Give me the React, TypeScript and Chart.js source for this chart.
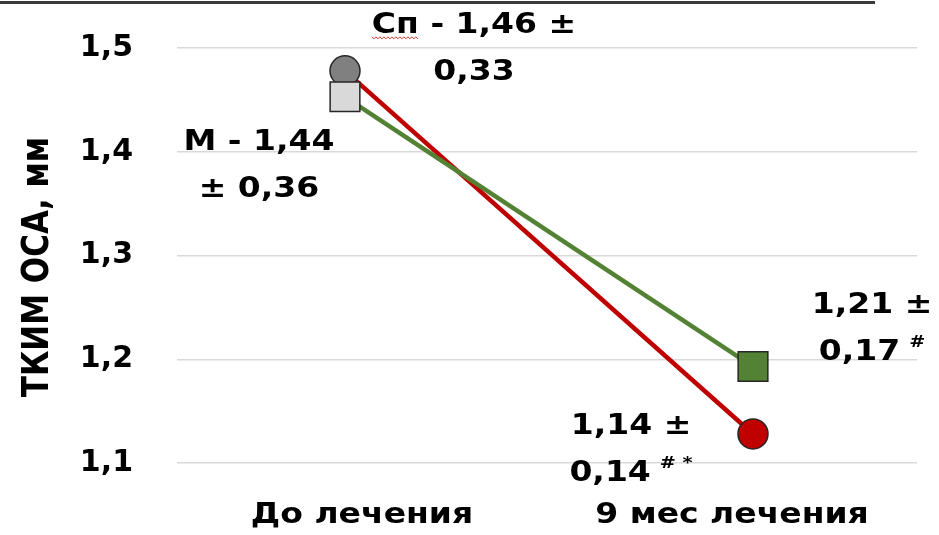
import React, { useEffect, useRef } from 'react';
import { Chart, registerables } from 'chart.js';

Chart.register(...registerables);

// ---- data ----
const categories = ['До лечения', '9 мес лечения'];
const positions = [0, 1];
const yTickValues = [1.1, 1.2, 1.3, 1.4, 1.5];
const yTickLabels = ['1,1', '1,2', '1,3', '1,4', '1,5'];
const yTitle = 'ТКИМ ОСА, мм';

const spValues = [1.478, 1.128];
const mValues = [1.453, 1.193];

const spLabels = [['Сп - 1,46 ±', '0,33'], ['1,14 ±', '0,14']];
const spMarks = ['', '# *'];
const mLabels = [['М - 1,44', '± 0,36'], ['1,21 ±', '0,17']];
const mMarks = ['', '#'];

const FONT = '"DejaVu Sans", Verdana, sans-serif';
const STRETCH = 1.2;

// label placement relative to point (dataset index order: 0 = М, 1 = Сп)
const labelPlacement = [
  [{ dx: -86, dy: 53 }, { dx: 119, dy: -54 }],
  [{ dx: 129, dy: -38 }, { dx: -122, dy: 0 }],
];
const labelTexts = [mLabels, spLabels];
const labelMarks = [mMarks, spMarks];

function stretchedText(ctx: CanvasRenderingContext2D, text: string, x: number, y: number) {
  ctx.save();
  ctx.translate(x, y);
  ctx.scale(STRETCH, 1);
  ctx.fillText(text, 0, 0);
  ctx.restore();
}

const annotationPlugin = {
  id: 'annotations',
  afterDatasetsDraw(chart: any) {
    const ctx = chart.ctx as CanvasRenderingContext2D;
    ctx.save();
    // top cut-off title rule
    ctx.fillStyle = '#3a3a3a';
    ctx.fillRect(0, 1, 875, 3);

    ctx.fillStyle = '#000';

    // y axis title
    ctx.save();
    ctx.translate(38, 267);
    ctx.scale(STRETCH, 1);
    ctx.rotate(-Math.PI / 2);
    ctx.font = `bold 31px ${FONT}`;
    ctx.textAlign = 'center';
    ctx.textBaseline = 'middle';
    ctx.fillText(yTitle, 0, 0);
    ctx.restore();

    // category labels
    const xs = chart.scales.x;
    ctx.font = `bold 27.5px ${FONT}`;
    ctx.textAlign = 'left';
    ctx.textBaseline = 'alphabetic';
    (chart.data.labels as string[]).forEach((lab: string, i: number) => {
      const px = xs.getPixelForValue(i);
      const w = ctx.measureText(lab).width * STRETCH;
      stretchedText(ctx, lab, px - w / 2, xs.top + 60);
    });

    const lineGap = 47;
    chart.data.datasets.forEach((_ds: any, di: number) => {
      const meta = chart.getDatasetMeta(di);
      meta.data.forEach((pt: any, pi: number) => {
        const place = labelPlacement[di][pi];
        const lines = labelTexts[di][pi];
        const mark = labelMarks[di][pi];
        const cx = pt.x + place.dx;
        let by = pt.y + place.dy;
        lines.forEach((line: string, li: number) => {
          ctx.font = `bold 27.5px ${FONT}`;
          const w = ctx.measureText(line).width * STRETCH;
          const isLast = li === lines.length - 1;
          let markW = 0;
          const gap = 9;
          if (isLast && mark) {
            ctx.font = `bold 16px ${FONT}`;
            markW = ctx.measureText(mark).width * STRETCH + gap;
            ctx.font = `bold 27.5px ${FONT}`;
          }
          const x0 = cx - (w + markW) / 2;
          stretchedText(ctx, line, x0, by);
          if (isLast && mark) {
            ctx.font = `bold 16px ${FONT}`;
            stretchedText(ctx, mark, x0 + w + gap, by - 13);
          }
          // spell-check wavy underline under "Сп"
          if (line.startsWith('Сп')) {
            ctx.font = `bold 27.5px ${FONT}`;
            const ww = ctx.measureText('Сп').width * STRETCH;
            ctx.save();
            ctx.strokeStyle = '#e0302a';
            ctx.lineWidth = 1;
            ctx.beginPath();
            const yy = by + 4;
            for (let x = 0; x <= ww; x += 2) {
              const y = yy + ((x / 2) % 2 === 0 ? 0 : 2);
              if (x === 0) ctx.moveTo(x0 + x, y);
              else ctx.lineTo(x0 + x, y);
            }
            ctx.stroke();
            ctx.restore();
          }
          by += lineGap;
        });
      });
    });
    ctx.restore();
  },
};

export default function App() {
  const ref = useRef<HTMLCanvasElement | null>(null);
  useEffect(() => {
    document.body.style.margin = '0';
    const canvas = ref.current;
    if (!canvas) return;
    const chart = new Chart(canvas, {
      type: 'line',
      data: {
        labels: categories,
        datasets: [
          {
            label: 'М',
            data: positions.map((x, i) => ({ x, y: mValues[i] })),
            xAxisID: 'xv',
            yAxisID: 'y',
            borderColor: '#548235',
            borderWidth: 4.5,
            pointStyle: 'rect',
            pointRadius: 21,
            pointHoverRadius: 21,
            pointBackgroundColor: ['#d9d9d9', '#548235'],
            pointBorderColor: '#262626',
            pointBorderWidth: 1.5,
            order: 0,
          },
          {
            label: 'Сп',
            data: positions.map((x, i) => ({ x, y: spValues[i] })),
            xAxisID: 'xv',
            yAxisID: 'y',
            borderColor: '#c00000',
            borderWidth: 4.5,
            pointStyle: 'circle',
            pointRadius: 15,
            pointHoverRadius: 15,
            pointBackgroundColor: ['#808080', '#c00000'],
            pointBorderColor: '#262626',
            pointBorderWidth: 1.5,
            order: 1,
          },
        ],
      },
      options: {
        responsive: false,
        animation: false,
        layout: { padding: { top: 48, right: 22, left: 0, bottom: 0 }, autoPadding: false },
        plugins: {
          legend: { display: false },
          tooltip: { enabled: false },
        },
        scales: {
          x: {
            type: 'category',
            position: 'bottom',
            offset: true,
            grid: { display: false },
            border: { display: false },
            ticks: { display: false },
            afterFit: (s: any) => {
              s.height = 72;
            },
          },
          xv: {
            type: 'linear',
            display: false,
            min: -0.41176,
            max: 1.40196,
          },
          y: {
            type: 'linear',
            position: 'left',
            min: 1.1,
            max: 1.5,
            afterBuildTicks: (s: any) => {
              s.ticks = yTickValues.map((v) => ({ value: v }));
            },
            ticks: {
              color: '#000',
              font: { family: FONT, size: 30, weight: 'bold' },
              padding: 44,
              callback: (_v: any, i: number) => yTickLabels[i],
            },
            grid: { color: '#d9d9d9', lineWidth: 1.5, drawTicks: false },
            border: { display: false },
            afterFit: (s: any) => {
              s.width = 177;
              s.paddingTop = 0;
              s.paddingBottom = 0;
            },
          },
        },
      },
      plugins: [annotationPlugin],
    });
    return () => chart.destroy();
  }, []);
  return (
    <div style={{ width: 939, height: 535 }}>
      <canvas ref={ref} width={939} height={535} />
    </div>
  );
}
